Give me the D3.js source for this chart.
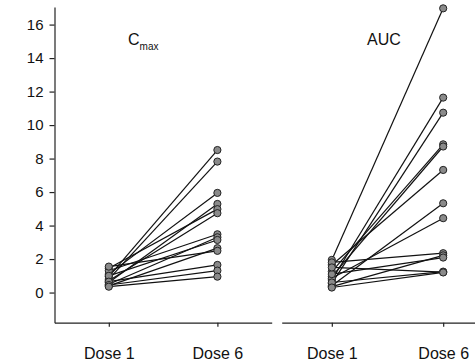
<!DOCTYPE html>
<html>
<head>
<meta charset="utf-8">
<script src="https://cdn.jsdelivr.net/npm/d3@7"></script>
<style>
body { margin: 0; background: #fff; }
svg { display: block; }
</style>
</head>
<body>
<script>
// visits
let doses = ["Dose 1", "Dose 6"];
let yTicks = [0, 2, 4, 6, 8, 10, 12, 14, 16];

// Cmax per subject (dose 1 -> dose 6)
let cmaxDose1 = [0.95, 0.80, 1.10, 0.60, 1.45, 0.70, 1.30, 0.50, 1.00, 0.40, 1.55, 0.65, 0.45, 0.35];
let cmaxDose6 = [8.51, 7.82, 5.95, 5.29, 4.98, 4.74, 3.48, 3.30, 3.14, 2.65, 2.49, 1.65, 1.31, 0.95];

// AUC per subject
let aucDose1 = [1.95, 0.75, 0.55, 1.25, 0.95, 1.65, 0.40, 0.85, 1.80, 0.35, 1.10, 0.60, 1.50, 0.30];
let aucDose6 = [16.97, 11.64, 10.74, 8.85, 8.72, 7.32, 5.33, 4.44, 2.35, 2.22, 2.09, 1.25, 1.22, 1.20];

let width = 475, height = 362;

var svg = d3.select("body")
.append("svg")
.attr("width", width)
.attr("height", height)
.attr("font-family", "Liberation Sans, Arial, sans-serif");

let y = d3.scaleLinear()
.domain([-1.8, 17.05])
.range([322.7, 7]);

let panels = [
	{title: "C", sub: "max", d1: cmaxDose1, d6: cmaxDose6, range: [54.5, 271.7], pad: 0.5, tx: 128},
	{title: "AUC", sub: "", d1: aucDose1, d6: aucDose6, range: [281.7, 493.3], pad: 0.45, tx: 367}
];

// y axis, left panel only
let yAxis = svg.append("g")
.attr("transform", "translate(54.5,0)")
.call(d3.axisLeft(y).tickValues(yTicks).tickSize(5).tickSizeOuter(0).tickPadding(6));
yAxis.selectAll("text").attr("font-size", 15).attr("fill", "#111");
yAxis.selectAll("line,path").attr("stroke", "#222").attr("stroke-width", 1.2);

panels.forEach(p => {
	let x = d3.scalePoint().domain(doses).range(p.range).padding(p.pad);

	let xAxis = svg.append("g")
	.attr("transform", "translate(0,322.7)")
	.call(d3.axisBottom(x).tickSize(4).tickSizeOuter(0).tickPadding(21));
	xAxis.selectAll("text").attr("font-size", 16).attr("fill", "#111");
	xAxis.selectAll("line,path").attr("stroke", "#222").attr("stroke-width", 1.2);

	let pairs = p.d1.map((v, i) => ({a: v, b: p.d6[i]}));

	svg.append("g")
	.attr("stroke", "#111")
	.attr("stroke-width", 1.2)
	.selectAll("line")
	.data(pairs)
	.enter()
	.append("line")
	.attr("x1", x(doses[0]))
	.attr("x2", x(doses[1]))
	.attr("y1", d => y(d.a))
	.attr("y2", d => y(d.b));

	let pts = [];
	pairs.forEach(d => { pts.push([doses[0], d.a]); pts.push([doses[1], d.b]); });

	svg.append("g")
	.selectAll("circle")
	.data(pts)
	.enter()
	.append("circle")
	.attr("cx", d => x(d[0]))
	.attr("cy", d => y(d[1]))
	.attr("r", 3.6)
	.attr("fill", "#8a8a8a")
	.attr("stroke", "#222")
	.attr("stroke-width", 1);

	let t = svg.append("text")
	.attr("x", p.tx)
	.attr("y", 45)
	.attr("font-size", 16)
	.attr("fill", "#111")
	.text(p.title);
	if (p.sub) {
		t.append("tspan")
		.attr("font-size", 10)
		.attr("dy", 5)
		.text(p.sub);
	}
});
</script>
</body>
</html>
